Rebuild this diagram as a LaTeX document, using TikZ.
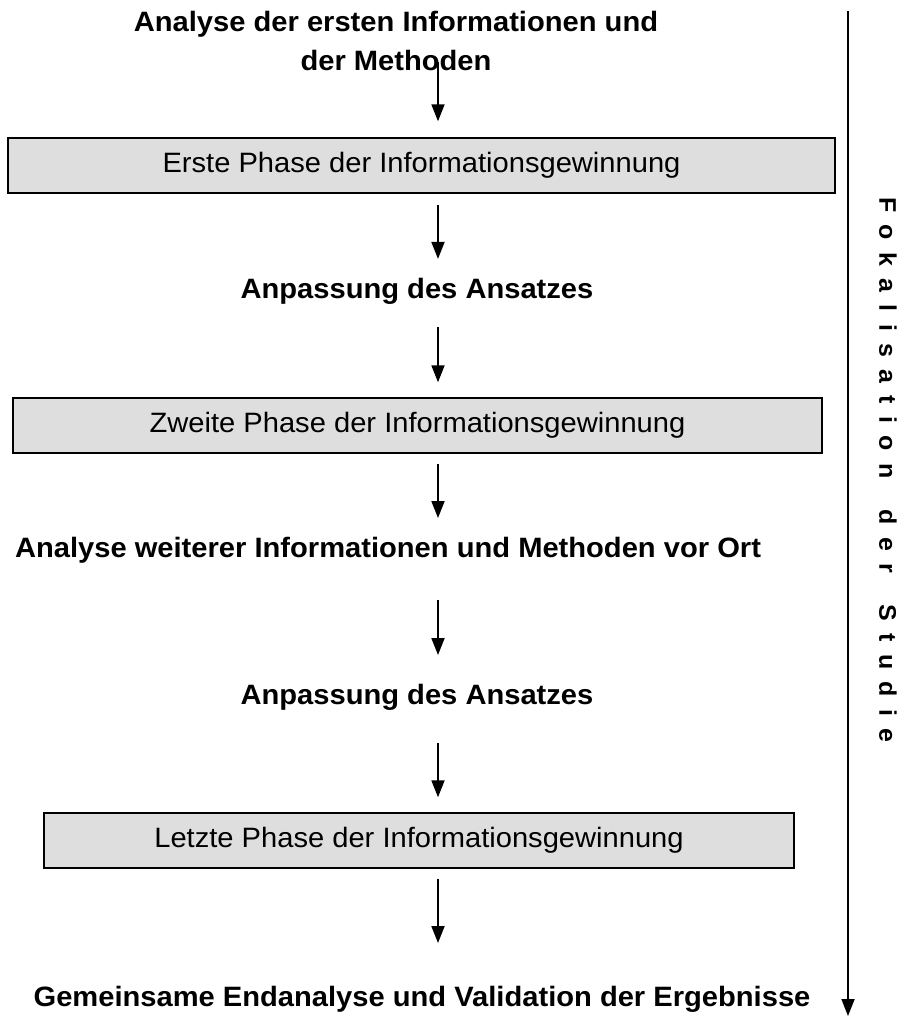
\documentclass[tikz,border=0pt]{standalone}
\usepackage{fontspec}
\setmainfont{Liberation Sans}[FakeStretch=1.04]
\usetikzlibrary{arrows.meta}
\definecolor{boxgray}{HTML}{DEDEDE}
% extra tracking between the letters of the side label
\newcommand\trk{\hspace{12.3pt}}
\begin{document}
\begin{tikzpicture}[x=1pt,y=-1pt,
  flow/.style={-{Triangle[width=13pt,length=17pt]}, line width=1.8pt},
  phase/.style={draw=black, line width=1.4pt, fill=boxgray, inner sep=0pt,
    minimum height=55pt, font=\fontsize{28pt}{34pt}\selectfont},
  stage/.style={inner sep=0pt, anchor=base, align=center,
    font=\fontsize{28pt}{39pt}\selectfont\bfseries},
]
\useasboundingbox (0,0) rectangle (911,1017);

% vertical axis of the flow arrows
\coordinate (ax) at (438,0);

% stages and phases
\node[stage, anchor=north] (t1) at (396,10.6)
  {Analyse der ersten Informationen und\\der Methoden};
\node[phase, minimum width=827pt] (b1) at (421.5,165.5)
  {Erste Phase der Informationsgewinnung};
\node[stage] (t2) at (417,298) {Anpassung des Ansatzes};
\node[phase, minimum width=809pt] (b2) at (417.5,425.5)
  {Zweite Phase der Informationsgewinnung};
\node[stage] (t4) at (388,557)
  {Analyse weiterer Informationen und Methoden vor Ort};
\node[stage] (t5) at (417,704) {Anpassung des Ansatzes};
\node[phase, minimum width=750pt] (b3) at (419,840.5)
  {Letzte Phase der Informationsgewinnung};
\node[stage] (t7) at (422,1006)
  {Gemeinsame Endanalyse und Validation der Ergebnisse};

% flow arrows
\draw[flow, shorten <=-8.4pt, shorten >=16pt] (t1.south -| ax) -- (b1.north -| ax);
\draw[flow, shorten <=11pt, shorten >=18.6pt] (b1.south -| ax) -- (t2.north -| ax);
\draw[flow, shorten <=23pt, shorten >=15pt] (t2.south -| ax) -- (b2.north -| ax);
\draw[flow, shorten <=10pt, shorten >=18.5pt] (b2.south -| ax) -- (t4.north -| ax);
\draw[flow, shorten <=37pt, shorten >=28.5pt] (t4.south -| ax) -- (t5.north -| ax);
\draw[flow, shorten <=33pt, shorten >=15pt] (t5.south -| ax) -- (b3.north -| ax);
\draw[flow, shorten <=10pt, shorten >=42.5pt] (b3.south -| ax) -- (t7.north -| ax);

% focus axis on the right
\coordinate (ftop) at (848,11);
\coordinate (fbot) at (848,1016);
\draw[flow] (ftop) -- (fbot);
\node[rotate=-90, inner sep=0pt, font=\fontsize{24pt}{28pt}\selectfont\bfseries]
  (focus) at (888,470)
  {F\trk o\trk k\trk a\trk l\trk i\trk s\trk a\trk t\trk i\trk o\trk n\trk\ \trk
   d\trk e\trk r\trk\ \trk S\trk t\trk u\trk d\trk i\trk e};
\end{tikzpicture}
\end{document}
